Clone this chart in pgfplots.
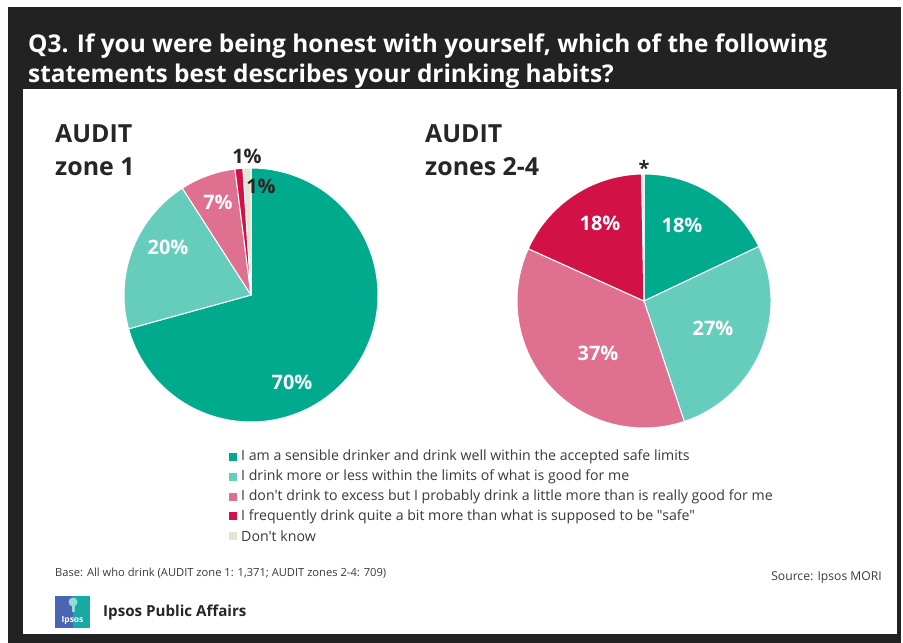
\documentclass[border=0pt]{standalone}
\usepackage{pgfplots}
\usepackage{pgfplotstable}
\pgfplotsset{compat=1.18}
\usepackage{fontspec}
\setmainfont{Open Sans}[Ligatures=TeXOff]

\definecolor{frame}{HTML}{222222}
\definecolor{ink}{HTML}{262626}
\definecolor{legtext}{HTML}{3A3A3A}
\definecolor{cteal}{HTML}{00AA8D}
\definecolor{clight}{HTML}{66CDBC}
\definecolor{cpink}{HTML}{E07090}
\definecolor{cred}{HTML}{D21147}
\definecolor{ccream}{HTML}{E8E4D3}
\definecolor{logoblue}{HTML}{4A64B4}
\definecolor{logoteal}{HTML}{17A9A3}

% shares in percent, clockwise from 12 o'clock
\pgfplotstableread{
share colour
70 cteal
20 clight
7 cpink
1 cred
1 ccream
}\zoneone
\pgfplotstableread{
share colour
18 cteal
27 clight
37 cpink
18 cred
0.3 ccream
}\zonestwo

\newcommand{\drawpie}[1]{%
  \pgfplotstablegetrowsof{#1}\pgfmathtruncatemacro\lastrow{\pgfplotsretval-1}%
  \def\total{0}%
  \pgfplotsforeachungrouped \row in {0,...,\lastrow}{%
    \pgfplotstablegetelem{\row}{share}\of{#1}%
    \pgfmathsetmacro\total{\total+\pgfplotsretval}%
  }%
  \def\cum{0}%
  \pgfplotsforeachungrouped \row in {0,...,\lastrow}{%
    \pgfplotstablegetelem{\row}{share}\of{#1}\let\sliceval\pgfplotsretval
    \pgfplotstablegetelem{\row}{colour}\of{#1}\let\slicecol\pgfplotsretval
    \pgfmathsetmacro\angA{90-\cum/\total*360}%
    \pgfmathsetmacro\angB{90-(\cum+\sliceval)/\total*360}%
    \edef\doslice{\noexpand\addplot[fill=\slicecol, draw=white, line width=1pt,
      line join=round, domain=\angB:\angA, samples=120]
      ({cos(x)},{sin(x)}) -- (axis cs:0,0) -- cycle;}%
    \doslice
    \pgfmathsetmacro\cum{\cum+\sliceval}%
  }%
}

\pgfplotsset{pie/.style={width=254bp, height=254bp, scale only axis,
  xmin=-1, xmax=1, ymin=-1, ymax=1, hide axis, clip=false, anchor=center}}

\begin{document}
\begin{tikzpicture}[x=1bp,y=1bp]
% frame
\fill[white] (0,0) rectangle (903,-643);
\fill[frame] (8,-7) rectangle (901,-643);
\fill[white] (23,-89) rectangle (897,-634);

% title
\begin{scope}[every node/.style={anchor=base west, text=white, inner sep=0pt,
    font=\bfseries\fontsize{24.5}{28}\selectfont}]
\node at (28,-53) {Q3. If you were being honest with yourself, which of the following};
\node at (28,-83) {statements best describes your drinking habits?};
\end{scope}

% panel headings
\begin{scope}[every node/.style={anchor=base west, text=ink, inner sep=0pt,
    font=\bfseries\fontsize{25}{28}\selectfont}]
\node at (55,-143) {AUDIT};
\node at (55,-176) {zone 1};
\node at (425,-143) {AUDIT};
\node at (425,-176) {zones 2-4};
\end{scope}

% pies
\begin{axis}[pie, at={(251bp,-295bp)}]
\drawpie{\zoneone}
\end{axis}
\begin{axis}[pie, at={(644bp,-301bp)}]
\drawpie{\zonestwo}
\end{axis}

% slice labels
\begin{scope}[every node/.style={text=white, inner sep=0pt,
    font=\bfseries\fontsize{20}{22}\selectfont}]
\node at (292,-382) {70\%};
\node at (168,-247) {20\%};
\node at (218,-202) {7\%};
\node[text=ink] at (247,-156) {1\%};
\node[text=ink] at (261,-186) {1\%};
\node at (682,-225) {18\%};
\node at (713,-328) {27\%};
\node at (598,-353) {37\%};
\node at (600,-223) {18\%};
\node[text=ink] at (644,-168) {*};
\end{scope}

% legend
\foreach \col/\txt [count=\i from 0] in {
  cteal/{I am a sensible drinker and drink well within the accepted safe limits},
  clight/{I drink more or less within the limits of what is good for me},
  cpink/{I don't drink to excess but I probably drink a little more than is really good for me},
  cred/{I frequently drink quite a bit more than what is supposed to be "safe"},
  ccream/{Don't know}}{
  \fill[\col] (229,{-453-19.8*\i}) rectangle (237,{-461-19.8*\i});
  \node[anchor=west, inner sep=0pt, text=legtext, font=\fontsize{14.2}{16}\selectfont]
    at (241,{-457-19.8*\i}) {\txt};
}

% footer
\node[anchor=west, inner sep=0pt, text=legtext, font=\fontsize{11.2}{12}\selectfont]
  at (55,-573) {Base: All who drink (AUDIT zone 1: 1,371; AUDIT zones 2-4: 709)};
\node[anchor=east, inner sep=0pt, text=legtext, font=\fontsize{12.2}{14}\selectfont]
  at (882,-578) {Source: Ipsos MORI};

% logo
\fill[logoblue] (55,-596) rectangle (73,-628);
\fill[logoteal] (73,-596) rectangle (90,-628);
\fill[clight!70!white] (73,-602) circle (4.5);
\fill[clight!70!white] (71.5,-604) rectangle (74.5,-612);
\node[text=white, inner sep=0pt, font=\bfseries\fontsize{8.5}{9}\selectfont] at (72.5,-620) {Ipsos};
\node[anchor=west, inner sep=0pt, text=ink, font=\bfseries\fontsize{15.2}{17}\selectfont]
  at (103,-613) {Ipsos Public Affairs};
\end{tikzpicture}
\end{document}
